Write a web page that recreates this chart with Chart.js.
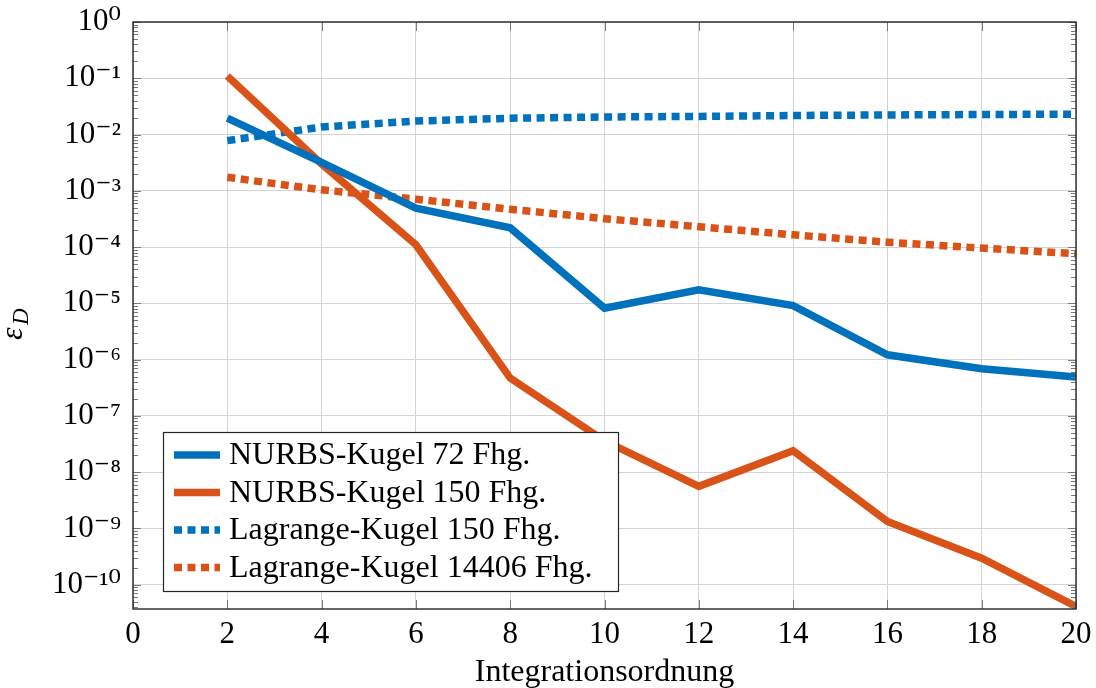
<!DOCTYPE html>
<html>
<head>
<meta charset="utf-8">
<script src="https://cdn.jsdelivr.net/npm/chart.js@4.4.1/dist/chart.umd.min.js"></script>
<style>
html,body{margin:0;padding:0;background:#fff;}
canvas{display:block;}
</style>
</head>
<body>
<canvas id="chart" width="1096" height="688"></canvas>
<script>
// Daten
const ordnungen = [2, 4, 6, 8, 10, 12, 14, 16, 18, 20];
const nurbs72 = [1.95e-2, 3.2e-3, 4.9e-4, 2.2e-4, 8.2e-6, 1.74e-5, 9.1e-6, 1.22e-6, 6.9e-7, 4.9e-7];
const nurbs150 = [1.1e-1, 3.0e-3, 1.1e-4, 4.7e-7, 3.6e-8, 5.6e-9, 2.4e-8, 1.33e-9, 2.96e-10, 4.1e-11];
const lagrange150 = [7.8e-3, 1.36e-2, 1.74e-2, 1.95e-2, 2.05e-2, 2.1e-2, 2.18e-2, 2.23e-2, 2.27e-2, 2.3e-2];
const lagrange14406 = [1.74e-3, 1.04e-3, 7.1e-4, 4.7e-4, 3.2e-4, 2.3e-4, 1.65e-4, 1.22e-4, 9.6e-5, 7.6e-5];
const namen = ["NURBS-Kugel 72 Fhg.", "NURBS-Kugel 150 Fhg.", "Lagrange-Kugel 150 Fhg.", "Lagrange-Kugel 14406 Fhg."];
const xTicks = [0, 2, 4, 6, 8, 10, 12, 14, 16, 18, 20];
const yExponenten = [-10, -9, -8, -7, -6, -5, -4, -3, -2, -1, 0];

const BLAU = "#0072BD";
const ROT = "#D95319";
const SCHRIFT = "'Liberation Serif', 'DejaVu Serif', serif";

const hoch = {"-":"\u207B","0":"\u2070","1":"\u00B9","2":"\u00B2","3":"\u00B3","4":"\u2074","5":"\u2075","6":"\u2076","7":"\u2077","8":"\u2078","9":"\u2079"};
function zehnerPotenz(e){
    return "10" + String(e).split("").map(c => hoch[c]).join("");
}

function punkte(werte){
    return ordnungen.map((x, i) => ({x: x, y: werte[i]}));
}

// Rahmen, kleine Striche, Legende, y-Beschriftung
const extras = {
    id: "extras",
    afterDraw(chart){
        const ctx = chart.ctx;
        const a = chart.chartArea;
        const ys = chart.scales.y;
        const xs = chart.scales.x;
        ctx.save();

        // Striche
        ctx.strokeStyle = "#7a7a7a";
        ctx.lineWidth = 1;
        ctx.beginPath();
        for(let k = -11; k <= 0; k++){
            for(let m = 1; m <= 9; m++){
                const v = m * Math.pow(10, k);
                if(v < ys.min || v > ys.max) continue;
                const y = Math.round(ys.getPixelForValue(v)) + 0.5;
                const len = m == 1 ? 8 : 5;
                ctx.moveTo(a.left, y); ctx.lineTo(a.left + len, y);
                ctx.moveTo(a.right, y); ctx.lineTo(a.right - len, y);
            }
        }
        xTicks.forEach(t => {
            const x = Math.round(xs.getPixelForValue(t)) + 0.5;
            ctx.moveTo(x, a.top); ctx.lineTo(x, a.top + 9);
            ctx.moveTo(x, a.bottom); ctx.lineTo(x, a.bottom - 9);
        });
        ctx.stroke();

        // Rahmen
        ctx.strokeStyle = "#262626";
        ctx.lineWidth = 1.4;
        ctx.strokeRect(a.left, a.top, a.right - a.left, a.bottom - a.top);

        // Legende
        const lx = 163, ly = 432, lw = 455, lh = 159;
        ctx.fillStyle = "#fff";
        ctx.fillRect(lx, ly, lw, lh);
        ctx.strokeStyle = "#262626";
        ctx.lineWidth = 1.2;
        ctx.strokeRect(lx + 0.5, ly + 0.5, lw, lh);
        ctx.font = "32px " + SCHRIFT;
        ctx.textBaseline = "middle";
        ctx.textAlign = "left";
        chart.data.datasets.forEach((ds, i) => {
            const y = ly + 23 + i * 37.5;
            ctx.strokeStyle = ds.borderColor;
            ctx.lineWidth = ds.borderWidth;
            ctx.lineCap = "butt";
            ctx.setLineDash(ds.borderDash || []);
            ctx.beginPath();
            ctx.moveTo(lx + 11, y); ctx.lineTo(lx + 57, y);
            ctx.stroke();
            ctx.setLineDash([]);
            ctx.fillStyle = "#000";
            ctx.fillText(ds.label, lx + 66, y + 1);
        });

        // y-Achsentitel
        ctx.translate(22, 340);
        ctx.rotate(-Math.PI / 2);
        ctx.fillStyle = "#000";
        ctx.textBaseline = "alphabetic";
        ctx.font = "italic 32px " + SCHRIFT;
        ctx.fillText("\u03B5", 0, 0);
        ctx.font = "italic 23px " + SCHRIFT;
        ctx.fillText("D", 15, 6);
        ctx.restore();
    }
};

new Chart(document.getElementById("chart"), {
    type: "line",
    data: {
        datasets: [
            {label: namen[0], data: punkte(nurbs72), borderColor: BLAU, borderWidth: 7.5},
            {label: namen[1], data: punkte(nurbs150), borderColor: ROT, borderWidth: 7.5},
            {label: namen[2], data: punkte(lagrange150), borderColor: BLAU, borderWidth: 7.5, borderDash: [8, 5.5]},
            {label: namen[3], data: punkte(lagrange14406), borderColor: ROT, borderWidth: 7.5, borderDash: [8, 5.5]}
        ]
    },
    options: {
        responsive: false,
        animation: false,
        devicePixelRatio: 1,
        layout: {padding: {top: 22, right: 20, left: 0, bottom: -4}},
        elements: {
            point: {radius: 0},
            line: {tension: 0, fill: false, borderCapStyle: "butt", borderJoinStyle: "miter"}
        },
        plugins: {
            legend: {display: false},
            tooltip: {enabled: false}
        },
        scales: {
            x: {
                type: "linear",
                min: 0,
                max: 20,
                afterBuildTicks: s => { s.ticks = xTicks.map(v => ({value: v})); },
                afterFit: s => { s.height = 83; s.paddingLeft = 0; s.paddingRight = 0; },
                grid: {color: "#d4d4d4", lineWidth: 1, drawTicks: false},
                border: {display: false},
                ticks: {color: "#000", padding: 7, font: {family: SCHRIFT, size: 31}, maxRotation: 0},
                title: {display: true, text: "Integrationsordnung", color: "#000", padding: 0, font: {family: SCHRIFT, size: 32}}
            },
            y: {
                type: "logarithmic",
                min: 3.7e-11,
                max: 1,
                afterBuildTicks: s => { s.ticks = yExponenten.map(e => ({value: Math.pow(10, e)})); },
                afterFit: s => { s.width = 133; s.paddingTop = 0; s.paddingBottom = 0; },
                grid: {color: "#d4d4d4", lineWidth: 1, drawTicks: false},
                border: {display: false},
                ticks: {
                    color: "#000",
                    padding: 12,
                    font: {family: SCHRIFT, size: 31},
                    callback: v => zehnerPotenz(Math.round(Math.log10(v)))
                }
            }
        }
    },
    plugins: [extras]
});
</script>
</body>
</html>
